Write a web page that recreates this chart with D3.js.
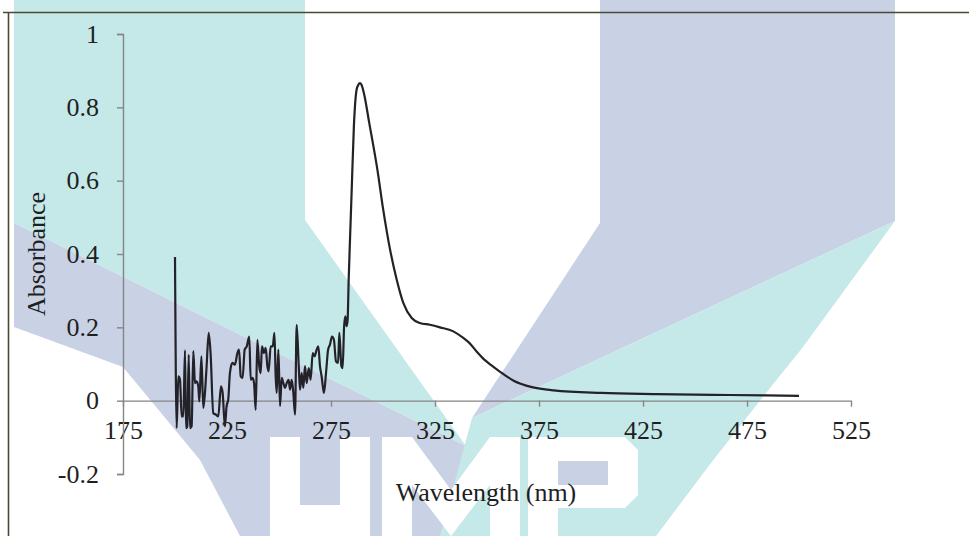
<!DOCTYPE html>
<meta charset="utf-8">
<style>
  body { margin: 0; background: #fff; }
  svg { display: block; }
  .axis path, .axis line { stroke: #858585; stroke-width: 1.4px; }
</style>
<svg width="969" height="536"></svg>
<script src="https://cdn.jsdelivr.net/npm/d3@7"></script>
<script>

    // spectrum
    var wavelength = [
        200, 200.8, 201.6, 202.4, 203.2, 204.0, 204.8, 205.3, 205.9, 206.6, 207.2, 208.0, 208.8, 209.6,
        210.4, 211.2, 211.7, 212.7, 213.6, 214.4, 215.2, 216.2, 217.1, 218.4, 219.7, 220.8, 222.1, 222.9,
        224.0, 224.8, 225.6, 226.4, 227.6, 228.8, 230.0, 230.8, 231.6, 232.5, 233.5, 234.5, 235.7, 236.4,
        237.3, 238.0, 238.8, 239.6, 240.5, 241.2, 241.8, 242.8, 243.6, 244.4, 245.0, 246.0, 247.0, 247.8,
        248.4, 248.9, 249.7, 250.5, 251.3, 252.1, 252.9, 253.7, 254.6, 255.3, 256.1, 256.9, 257.7, 258.5,
        259.5, 260.1, 260.9, 261.7, 262.5, 263.3, 264.3, 265.2, 266.2, 267.1, 268.1, 268.9, 269.7, 270.5,
        271.6, 272.6, 273.6, 274.5, 275.5, 276.4, 277.4, 278.4, 279.0, 280.0, 280.6, 281.3, 281.9, 282.5,
        283.0, 283.5, 284.2, 284.9, 286.0, 287.3, 288.2, 288.9, 289.6, 290.8, 293.4, 297.3, 300.1, 303.4,
        306.6, 309.8, 313.8, 317.7, 322.5, 327.4, 333.8, 338.6, 341.6, 345.0, 348.7, 352.0, 356.0, 362.8,
        371.6, 382.1, 405, 431.4, 466.6, 500
    ];
    var absorbance = [
        0.392, -0.075, 0.066, 0.057, -0.043, -0.043, 0.137, -0.075, -0.07, 0.125, -0.075, -0.07, 0.135, 0.048,
        0.053, 0.039, -0.002, 0.121, -0.02, 0.021, 0.094, 0.185, 0.13, -0.034, -0.038, -0.043, 0.039, 0.021,
        -0.07, -0.015, 0.003, 0.075, 0.103, 0.098, 0.13, 0.139, 0.066, 0.062, 0.139, 0.148, 0.175, 0.057,
        0.062, 0.048, -0.025, 0.166, 0.094, 0.075, 0.148, 0.13, 0.144, 0.094, 0.08, 0.148, 0.148, 0.185,
        0.066, 0.021, 0.139, -0.015, 0.062, 0.048, 0.035, 0.048, 0.057, 0.03, 0.057, 0.021, -0.038, 0.207,
        0.094, 0.03, 0.075, 0.035, 0.094, 0.048, 0.089, 0.057, 0.13, 0.121, 0.139, 0.148, 0.094, 0.066,
        0.021, 0.075, 0.139, 0.153, 0.175, 0.166, 0.107, 0.103, 0.185, 0.094, 0.089, 0.203, 0.23, 0.203,
        0.221, 0.33, 0.45, 0.566, 0.748, 0.848, 0.862, 0.866, 0.862, 0.839, 0.757, 0.63, 0.521, 0.412,
        0.33, 0.266, 0.2255, 0.212, 0.207, 0.2, 0.189, 0.171, 0.157, 0.134, 0.112, 0.097, 0.08, 0.0545,
        0.037, 0.028, 0.021, 0.018, 0.0155, 0.013
    ];

    var xTicks = [175, 225, 275, 325, 375, 425, 475, 525];
    var yTicks = [-0.2, 0, 0.2, 0.4, 0.6, 0.8, 1];

    var serif = "'Liberation Serif', 'Times New Roman', Times, serif";

    var svg = d3.select("svg");

    // faint UMP watermark behind the chart
    var teal = "#c5e9e8", lilac = "#c9d1e5";
    var watermark = [
        { fill: teal,  pts: [[14,0],[305,0],[305,220],[466,446],[14,223]] },
        { fill: lilac, pts: [[14,223],[466,446],[470,536],[240,536],[200,460],[123,367],[14,327]] },
        { fill: lilac, pts: [[600,0],[895,0],[895,221],[472,418],[600,223]] },
        { fill: teal,  pts: [[895,221],[472,418],[440,536],[656,536],[711,463],[766,393],[803,347]] }
    ];
    var letters = [
        [[270,437],[300,437],[300,505],[340,505],[340,437],[370,437],[370,536],[270,536]],
        [[382,437],[412,437],[451,490],[490,437],[520,437],[520,536],[490,536],[490,485],[451,536],[412,485],[412,536],[382,536]],
        [[528,437],[625,437],[638,450],[638,495],[625,508],[558,508],[558,536],[528,536]]
    ];
    var wm = svg.append("g");
    wm.selectAll("polygon.band")
        .data(watermark)
        .enter().append("polygon")
        .attr("class", "band")
        .attr("fill", function (d) { return d.fill; })
        .attr("points", function (d) { return d.pts.join(" "); });
    wm.selectAll("polygon.letter")
        .data(letters)
        .enter().append("polygon")
        .attr("class", "letter")
        .attr("fill", "#fff")
        .attr("points", function (d) { return d.join(" "); });
    wm.append("rect").attr("x", 558).attr("y", 461).attr("width", 50).attr("height", 24).attr("fill", lilac);

    // frame
    svg.append("path")
        .attr("d", "M3,12.5H969M8.5,12.5V536")
        .attr("fill", "none")
        .attr("stroke", "#4a4a35")
        .attr("stroke-width", 1.6);

    var x = d3.scaleLinear().domain([175, 525]).range([123, 851]);
    var y = d3.scaleLinear().domain([-0.2, 1]).range([474, 34]);

    svg.append("g")
        .attr("class", "axis")
        .attr("transform", "translate(0," + y(0) + ")")
        .call(d3.axisBottom(x).tickValues(xTicks).tickSize(6).tickSizeOuter(0).tickPadding(14));

    svg.append("g")
        .attr("class", "axis")
        .attr("transform", "translate(" + x(175) + ",0)")
        .call(d3.axisLeft(y).tickValues(yTicks).tickSize(6).tickSizeOuter(6).tickPadding(18)
            .tickFormat(function (d) { return String(+d.toFixed(1)); }));

    svg.selectAll(".axis")
        .attr("font-family", serif)
        .attr("font-size", 26)
        .selectAll("text")
        .attr("fill", "#1f1f1f");

    var line = d3.line()
        .x(function (d, i) { return x(wavelength[i]); })
        .y(function (d) { return y(d); })
        .curve(d3.curveMonotoneX);

    svg.append("path")
        .datum(absorbance)
        .attr("fill", "none")
        .attr("stroke", "#222228")
        .attr("stroke-width", 2.2)
        .attr("stroke-linejoin", "round")
        .attr("d", line);

    svg.append("text")
        .attr("x", 486)
        .attr("y", 501)
        .attr("text-anchor", "middle")
        .attr("font-family", serif)
        .attr("font-size", 26)
        .attr("fill", "#1f1f1f")
        .text("Wavelength (nm)");

    svg.append("text")
        .attr("transform", "translate(45,254) rotate(-90)")
        .attr("text-anchor", "middle")
        .attr("font-family", serif)
        .attr("font-size", 26)
        .attr("fill", "#1f1f1f")
        .text("Absorbance");

</script>
